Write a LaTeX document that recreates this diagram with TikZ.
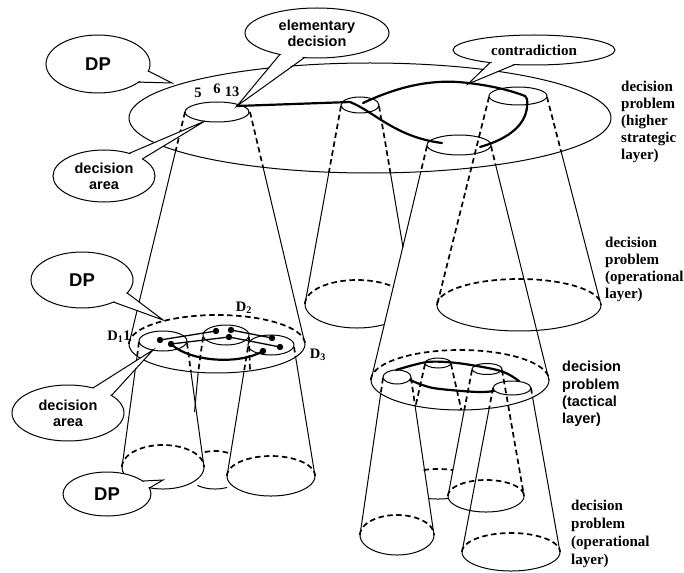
\documentclass[tikz,border=0pt]{standalone}
\usepackage{fontspec}
\setmainfont{Liberation Serif}
\newfontfamily\arialfont{Liberation Sans}
\usetikzlibrary{shapes.geometric,calc}
\newcommand\earc[7][]{\draw[#1] plot[domain=#6:#7,samples=90,variable=\t]({#2+#4*cos(\t)},{#3+#5*sin(\t)});}
\begin{document}
\begin{tikzpicture}[x=1pt,y=-1pt,
 ln/.style={line width=1pt},
 dsh/.style={line width=1.7pt,dash pattern=on 5.5pt off 3.5pt},
 thk/.style={line width=2.2pt,line cap=round},
 callout/.style={ellipse,draw,fill=white,line width=1pt,inner sep=0pt,outer sep=0pt,align=center,font=\arialfont\bfseries\fontsize{14.5}{16}\selectfont},
 dpfont/.style={font=\arialfont\bfseries\fontsize{18.5}{20}\selectfont},
 lbl/.style={inner sep=0pt,align=left,anchor=west,font=\bfseries\fontsize{15}{17}\selectfont},
 slbl/.style={inner sep=0pt,align=left,anchor=west,font=\arialfont\bfseries\fontsize{14.5}{17.3}\selectfont},
 num/.style={inner sep=0pt,font=\bfseries\fontsize{14.5}{16}\selectfont},
 dot/.style={fill=black}]
\fill[white] (0,0) rectangle (684,572);
\useasboundingbox (0,0) rectangle (684,572);

% ---------- higher strategic layer ----------
\draw[ln] (370,118) ellipse[x radius=241,y radius=55];

% cone to lower-left DP
\draw[dsh] (185,112) -- (175.6,151);
\draw[ln] (175.6,151) -- (129,344);
\draw[dsh] (250,112) -- (263.1,167.3);
\draw[ln] (263.1,167.3) -- (305,344);
% cone to operational (left)
\draw[dsh] (341,106) -- (328.9,172.3);
\draw[ln] (328.9,172.3) -- (305,304);
\draw[dsh] (379,106) -- (390.4,172.8);
\draw[ln] (390.4,172.8) -- (403,247.4);
% cone to operational (right)
\draw[dsh] (489,97) -- (437,305);
\draw[dsh] (547,97) -- (561.1,151.5);
\draw[ln] (561.1,151.5) -- (601,305);
% cone to tactical
\draw[dsh] (427,146) -- (420.8,171.8);
\draw[ln] (420.8,171.8) -- (371,380);
\draw[dsh] (491,146) -- (495.6,164.8);
\draw[ln] (495.6,164.8) -- (549,380);

% decision areas on top layer
\draw[ln] (217,112) ellipse[x radius=32,y radius=10];
\draw[ln] (360,105) ellipse[x radius=19,y radius=8];
\draw[ln] (518,96) ellipse[x radius=29,y radius=9];
\draw[ln] (459,145) ellipse[x radius=32,y radius=10];

% elementary decision and contradiction lines
\draw[thk] (237,106) -- (350,102) .. controls (375,112) and (395,137) .. (442,143);
\draw[thk] (363,103) .. controls (395,88) and (430,78) .. (468,83)
  .. controls (495,86) and (515,92) .. (525,96) -- (527,99)
  .. controls (529,118) and (518,136) .. (480,147);

\node[num] (n5) at (198,93) {5};
\node[num] (n6) at (217,89) {6};
\node[num] (n13) at (232,92) {13};

% ---------- operational bases (upper) ----------
\earc[dsh]{357}{304}{52}{24}{180}{315}
\earc[ln]{357}{304}{52}{24}{59}{180}
\earc[dsh]{519}{305}{82}{26}{180}{360}
\earc[ln]{519}{305}{82}{26}{0}{180}

% ---------- lower-left DP ----------
\earc[dsh]{217}{344}{88}{29}{180}{360}
\earc[ln]{217}{344}{88}{29}{0}{180}
\draw[ln] (163,341) ellipse[x radius=24,y radius=10];
\draw[ln] (226,335) ellipse[x radius=23,y radius=10];
\draw[ln] (271,345) ellipse[x radius=23,y radius=10];
\foreach \p in {(160,340),(171,344),(216,331),(231,330),(229,337),(272,338),(280,347),(263,351)}
  \fill \p circle[radius=3.2];
\draw[line width=1.3pt] (160,340) -- (216,331);
\draw[line width=1.3pt] (171,344) -- (229,337) -- (280,347);
\draw[line width=1.3pt] (231,330) -- (272,338);
\draw[thk] (171,344) .. controls (190,362) and (240,365) .. (263,351);

% sub-cones
\draw[dsh] (139,342) -- (137,357);
\draw[ln] (137,357) -- (122,467);
\draw[dsh] (187,343) -- (190.9,371.8);
\draw[ln] (190.9,371.8) -- (204,467);
\draw[dsh] (203,337) -- (198.2,372.3);
\draw[ln] (198.2,372.3) -- (194.5,412);
\draw[dsh] (249,337) -- (250,371);
\draw[dsh] (248,347) -- (244,371.6);
\draw[ln] (244,371.6) -- (227,476);
\draw[dsh] (294,347) -- (295.6,356.9);
\draw[ln] (295.6,356.9) -- (315,476);
\earc[dsh]{163}{467}{41}{22}{180}{360}
\earc[ln]{163}{467}{41}{22}{0}{180}
\earc[dsh]{215}{470}{30}{19}{250}{300}
\earc[ln]{215}{470}{30}{19}{66}{126}
\earc[dsh]{271}{476}{44}{20}{180}{360}
\earc[ln]{271}{476}{44}{20}{0}{180}

\node[num] (d1) at (119,337) {D\textsubscript{1}1};
\node[num] (d2) at (244,308) {D\textsubscript{2}};
\node[num] (d3) at (318,355) {D\textsubscript{3}};

% ---------- tactical layer ----------
\earc[dsh]{460}{380}{89}{30}{180}{360}
\earc[ln]{460}{380}{89}{30}{0}{180}
\draw[ln] (397,377) ellipse[x radius=14,y radius=7];
\draw[ln] (438,363) ellipse[x radius=13,y radius=5];
\draw[ln] (487,369) ellipse[x radius=15,y radius=5.5];
\draw[ln] (512,388) ellipse[x radius=19,y radius=7];
\draw[thk] plot[smooth] coordinates {(396,370) (427,362) (457,363) (493,369) (508,374) (519,381)};
\draw[thk] plot[smooth] coordinates {(410,380) (433,388) (477,392) (494,391)};

\draw[dsh] (383,378) -- (380.7,393.7);
\draw[ln] (380.7,393.7) -- (360,535);
\draw[dsh] (411,378) -- (415.1,405.9);
\draw[ln] (415.1,405.9) -- (434,535);
\draw[dsh] (425,364) -- (415.6,406);
\draw[dsh] (451,364) -- (461.3,409.8);
\draw[dsh] (472,370) -- (464.3,409.8);
\draw[ln] (464.3,409.8) -- (448,496);
\draw[dsh] (502,370) -- (524,496);
\draw[dsh] (493,388) -- (489.2,408.2);
\draw[ln] (489.2,408.2) -- (462,552);
\draw[dsh] (531,388) -- (532.6,397.4);
\draw[ln] (532.6,397.4) -- (560,552);
\earc[dsh]{397}{535}{37}{20}{180}{360}
\earc[ln]{397}{535}{37}{20}{0}{180}
\earc[dsh]{438}{484}{40}{15}{249}{292}
\earc[ln]{438}{484}{40}{15}{75}{104}
\earc[dsh]{486}{496}{38}{16}{180}{360}
\earc[ln]{486}{496}{38}{16}{0}{180}
\earc[dsh]{511}{552}{49}{19}{180}{360}
\earc[ln]{511}{552}{49}{19}{0}{180}

% ---------- callouts ----------
\coordinate (tA) at (172,83);
\coordinate (tE) at (237,106);
\coordinate (tD) at (205,121);
\coordinate (tC) at (468,84);
\coordinate (tB) at (163,320);
\coordinate (tF) at (153,350);
\coordinate (tG) at (163,480);

\node[callout,dpfont,minimum width=104,minimum height=58] (dpA) at (98,64) {DP};
\fill[white] ($(dpA.-8)!3pt!(dpA.center)$) -- (tA) -- ($(dpA.-24)!3pt!(dpA.center)$) -- cycle;
\draw[ln] (dpA.-8) -- (tA) -- (dpA.-24);

\node[callout,minimum width=144,minimum height=50] (ed) at (317,33) {elementary\\decision};
\fill[white] ($(ed.210)!3pt!(ed.center)$) -- (tE) -- ($(ed.243)!3pt!(ed.center)$) -- cycle;
\draw[ln] (ed.210) -- (tE) -- (ed.243);

\node[callout,minimum width=102,minimum height=52] (da1) at (104,176) {decision\\area};
\fill[white] ($(da1.42)!3pt!(da1.center)$) -- (tD) -- ($(da1.24)!3pt!(da1.center)$) -- cycle;
\draw[ln] (da1.42) -- (tD) -- (da1.24);

\node[callout,font=\bfseries\fontsize{15}{16}\selectfont,minimum width=162,minimum height=30] (con) at (534,50) {contradiction};
\fill[white] ($(con.196)!3pt!(con.center)$) -- (tC) -- ($(con.217)!3pt!(con.center)$) -- cycle;
\draw[ln] (con.196) -- (tC) -- (con.217);

\node[callout,dpfont,minimum width=102,minimum height=56] (dpB) at (82,280) {DP};
\fill[white] ($(dpB.-16)!3pt!(dpB.center)$) -- (tB) -- ($(dpB.-35)!3pt!(dpB.center)$) -- cycle;
\draw[ln] (dpB.-16) -- (tB) -- (dpB.-35);

\node[callout,minimum width=112,minimum height=56] (da2) at (68,413) {decision\\area};
\fill[white] ($(da2.45)!3pt!(da2.center)$) -- (tF) -- ($(da2.22)!3pt!(da2.center)$) -- cycle;
\draw[ln] (da2.45) -- (tF) -- (da2.22);

\node[callout,dpfont,minimum width=88,minimum height=44] (dpC) at (107,494) {DP};
\fill[white] ($(dpC.20)!3pt!(dpC.center)$) -- (tG) -- ($(dpC.8)!3pt!(dpC.center)$) -- cycle;
\draw[ln] (dpC.20) -- (tG) -- (dpC.8);

% ---------- layer labels ----------
\node[lbl] (lh) at (621,122) {decision\\problem\\(higher\\strategic\\layer)};
\node[lbl] (lo1) at (605,269) {decision\\problem\\(operational\\layer)};
\node[slbl] (lt) at (562,394) {decision\\problem\\(tactical\\layer)};
\node[lbl,font=\bfseries\fontsize{15}{18}\selectfont] (lo2) at (571,534) {decision\\problem\\(operational\\layer)};
\end{tikzpicture}
\end{document}
